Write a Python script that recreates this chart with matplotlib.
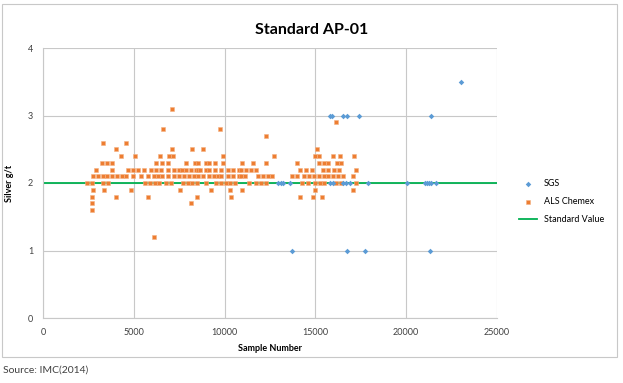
import matplotlib
matplotlib.use('Agg')
import matplotlib.pyplot as plt
import matplotlib.patches as mpatches
import numpy as np

plt.rcParams['font.family'] = ['Lato', 'DejaVu Sans']

# ─── data ─────────────────────────────────────────────────────────────────────
# ALS Chemex results grouped by assay value (g/t)
als_12 = [6130]
als_16 = [2715]
als_17 = [2680, 8170]
als_18 = [2680, 4020, 5800, 8480, 10336, 14150, 14850, 15350]
als_19 = [2736, 3378, 4828, 7545, 9250, 10316, 10976, 14980, 17090]
als_20 = [2405, 2700, 3300, 3600, 5620, 5900, 6150, 6390, 6790, 7030, 7690,
          7960, 8230, 8500, 8960, 9510, 9780, 10050, 10320, 10600, 11340,
          11710, 11990, 12260, 14250, 14600, 14980, 15250, 15500, 16135,
          16390, 17250]
als_21 = [2750, 3020, 3300, 3510, 3780, 4070, 4370, 4590, 4975, 5415, 5764,
          6130, 6315, 6570, 6900, 7230, 7500, 7780, 8050, 8300, 8520, 8830,
          9140, 9400, 9650, 9800, 10170, 10450, 10790, 10900, 11100, 11820,
          12100, 12400, 12630, 13700, 14000, 14370, 14640, 14910, 15180,
          15450, 15710, 15950, 16230, 16500, 17055]
als_22 = [2937, 3818, 4681, 4950, 5250, 5580, 5948, 6230, 6500, 6900, 7230,
          7500, 7640, 7860, 8130, 8400, 8550, 8660, 8970, 9140, 9450, 9800,
          10170, 10480, 10790, 10900, 11200, 11450, 11710, 14150, 14480,
          14800, 15440, 15700, 16040, 16300, 17220]
als_23 = [3230, 3500, 3780, 6205, 6535, 6900, 7860, 8370, 8530, 8970, 9140,
          9470, 9913, 10976, 11580, 12300, 14000, 15220, 15450, 15680, 16170,
          16400]
als_24 = [4314, 5066, 6425, 6939, 7160, 9913, 12740, 14980, 15220, 15970,
          16360, 17130]
als_25 = [4003, 7087, 8222, 8811, 15090]
als_26 = [3322, 4571]
als_27 = [12300]
als_28 = [6590, 9730]
als_29 = [16135]
als_31 = [7087]

als_rows = [(1.2, als_12), (1.6, als_16), (1.7, als_17), (1.8, als_18),
            (1.9, als_19), (2.0, als_20), (2.1, als_21), (2.2, als_22),
            (2.3, als_23), (2.4, als_24), (2.5, als_25), (2.6, als_26),
            (2.7, als_27), (2.8, als_28), (2.9, als_29), (3.1, als_31)]
als_x = [x for v, xs in als_rows for x in xs]
als_y = [v for v, xs in als_rows for x in xs]

# SGS results
sgs_x = [12960, 13100, 13230, 13600, 15800, 15950, 16540, 16700, 16900,
         17915, 20065, 21040, 21150, 21250, 21350, 21640,
         15800, 15900, 16500, 16760, 17400, 21385,
         23000,
         13694, 16760, 17715, 21295]
sgs_y = [2] * 16 + [3] * 6 + [3.5] + [1] * 4

std_x = [0, 25000]
std_y = [2, 2]

x_ticks = [0, 5000, 10000, 15000, 20000, 25000]
y_ticks = [0, 1, 2, 3, 4]

# ─── figure ───────────────────────────────────────────────────────────────────
fig = plt.figure(figsize=(6.23, 3.83), dpi=100)
ax = fig.add_axes([43 / 623, 1 - 318 / 383, 454 / 623, 270 / 383])

ax.plot(std_x, std_y, color='#00b050', lw=1.3, zorder=2, label='Standard Value')
ax.scatter(als_x, als_y, marker='s', s=12, color='#ed7d31', ec='#f4b183',
           lw=0.4, zorder=3, label='ALS Chemex')
ax.scatter(sgs_x, sgs_y, marker='D', s=8, color='#5b9bd5', lw=0,
           zorder=4, label='SGS')

ax.set_xlim(0, 25000)
ax.set_ylim(0, 4)
ax.set_xticks(x_ticks)
ax.set_yticks(y_ticks)
ax.grid(True, color='#c8c8c8', lw=0.8)
ax.set_axisbelow(True)
for s in ax.spines.values():
    s.set_visible(False)
ax.spines['left'].set_visible(True)
ax.spines['bottom'].set_visible(True)
ax.spines['left'].set_color('#c8c8c8')
ax.spines['bottom'].set_color('#c8c8c8')
ax.tick_params(length=0, labelsize=6.5, colors='#404040', pad=7)

ax.set_xlabel('Sample Number', fontsize=6.5, fontweight='bold', labelpad=5)
ax.set_ylabel('Silver g/t', fontsize=6.5, fontweight='bold', labelpad=10)

fig.text(0.5, 1 - 30 / 383, 'Standard AP-01', ha='center', va='center',
         fontsize=11.5, fontweight='bold')

h, l = ax.get_legend_handles_labels()
order = [2, 1, 0]
ax.legend([h[i] for i in order], [l[i] for i in order], frameon=False,
          fontsize=6.5, loc='center left', bbox_to_anchor=(1.03, 0.43),
          handlelength=2.0, labelspacing=1.0)

# outer chart frame
fig.patches.append(mpatches.Rectangle((2 / 623, 1 - 357 / 383), 615 / 623,
                                      353 / 383, transform=fig.transFigure,
                                      fill=False, ec='#c8c8c8', lw=0.8))

fig.text(3 / 623, 1 - 370 / 383, 'Source: IMC(2014)', ha='left', va='center',
         fontsize=7.5, color='#404040')

plt.savefig('out.png', dpi=100)
plt.close()
